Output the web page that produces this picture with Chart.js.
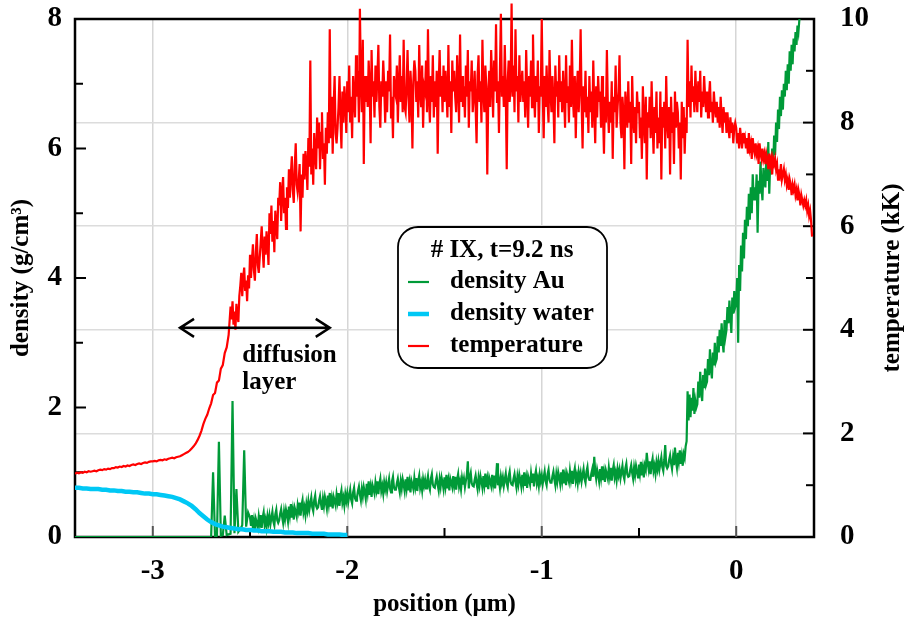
<!DOCTYPE html>
<html>
<head>
<meta charset="utf-8">
<script src="https://cdn.jsdelivr.net/npm/chart.js@4.4.1/dist/chart.umd.min.js"></script>
<style>
  body { margin: 0; background: #fff; }
  canvas { display: block; }
</style>
</head>
<body>
<canvas id="chart" width="912" height="626"></canvas>
<script>
const tempCoarseStart = -3.40, tempCoarseStep = 0.01;
const tempCoarse = [
  1.22,1.24,1.23,1.25,1.24,1.26,1.25,1.27,1.26,1.27,
  1.28,1.27,1.29,1.30,1.29,1.31,1.30,1.32,1.31,1.33,
  1.33,1.35,1.34,1.36,1.35,1.37,1.36,1.38,1.37,1.39,
  1.40,1.39,1.41,1.42,1.41,1.43,1.44,1.43,1.45,1.46,
  1.46,1.47,1.46,1.48,1.49,1.48,1.50,1.49,1.51,1.52,
  1.53,1.52,1.54,1.55,1.56,1.58,1.60,1.62,1.64,1.67,
  1.71,1.75,1.80,1.87,1.95,2.05,2.18,2.28,2.36,2.48,
  2.58,2.74,2.78,2.98,3.02,3.25,3.32,3.55,3.66,3.90
];
const tempFineStart = -2.60, tempFineStep = 0.005;
const tempFine = [
  4.45,4.20,4.55,4.10,4.35,4.00,4.50,4.30,4.15,4.65,
  4.85,5.10,4.65,5.00,5.20,4.75,4.95,4.55,5.05,4.80,
  5.45,5.00,5.35,5.65,5.15,4.95,5.50,5.85,5.25,5.10,
  5.40,5.70,6.00,5.55,5.20,5.80,5.45,5.90,5.65,5.25,
  6.25,5.85,6.40,5.70,6.10,5.50,6.30,6.00,5.75,6.55,
  6.40,6.85,6.10,6.65,6.95,6.25,6.55,5.95,6.75,6.35,
  7.10,6.55,7.00,7.35,6.70,6.45,7.15,7.60,6.80,6.65,
  6.85,7.20,5.90,7.00,6.55,7.40,6.90,7.45,7.20,6.70,
  7.70,7.15,9.20,7.00,7.50,6.80,7.80,7.40,7.10,8.10,
  7.50,8.00,7.10,7.80,8.20,7.30,7.60,6.80,7.90,7.40,
  8.20,7.60,9.80,7.70,8.50,7.40,8.30,8.90,7.80,7.60,
  7.90,8.30,8.90,8.10,7.50,8.60,8.00,8.70,8.40,7.80,
  8.80,8.20,9.10,8.00,8.50,7.70,8.90,8.50,8.10,9.30,
  8.50,9.00,8.00,10.2,8.80,8.20,9.60,7.20,8.90,8.40,
  8.90,8.30,9.20,8.70,7.60,9.40,8.50,8.80,8.10,9.10,
  8.40,8.90,9.50,8.30,7.90,8.80,8.50,9.20,8.70,8.00,
  8.80,8.20,9.00,8.60,9.70,8.10,8.50,7.70,8.90,8.60,
  8.50,9.10,8.00,8.70,9.30,8.40,8.90,8.20,9.60,8.30,
  8.20,8.70,9.40,8.50,8.00,9.00,8.60,7.50,8.80,9.20,
  9.00,8.40,8.80,8.10,9.50,8.60,8.30,9.10,7.90,8.70,
  8.60,9.20,8.20,9.80,8.50,8.00,8.90,8.40,9.30,8.10,
  8.80,8.30,9.00,7.40,8.70,9.40,8.50,8.90,8.20,9.10,
  8.40,9.00,8.60,8.10,9.50,8.30,8.80,7.80,9.20,8.60,
  9.00,8.50,8.20,9.30,8.70,8.00,9.70,8.40,8.90,8.30,
  8.70,8.10,9.10,8.50,9.40,7.90,8.80,8.60,9.20,8.20,
  8.50,9.00,8.30,7.60,8.90,9.30,8.40,8.80,8.00,9.60,
  8.60,8.20,9.10,8.70,7.00,8.50,9.00,8.30,9.40,8.80,
  8.10,9.20,8.60,9.90,8.40,8.80,7.80,9.00,10.1,8.50,
  8.90,8.30,9.50,8.60,7.10,8.80,9.20,8.40,8.70,10.3,
  8.50,9.10,8.20,9.80,8.60,8.90,8.00,9.30,8.40,8.70,
  9.00,8.40,8.80,8.10,9.40,8.60,7.90,8.90,8.50,9.20,
  8.30,9.70,8.60,8.10,8.90,8.40,9.20,7.80,8.70,8.50,
  10.0,8.60,7.70,8.90,8.30,9.10,8.40,8.00,9.40,8.60,
  8.20,8.90,8.40,7.60,9.10,8.50,8.80,8.10,9.30,8.40,
  8.80,8.20,9.00,8.50,7.90,9.30,8.40,8.70,8.00,9.10,
  8.30,9.60,8.50,8.10,8.90,7.70,8.60,9.00,8.20,8.70,
  9.80,8.40,7.50,8.70,8.20,9.00,8.10,8.50,7.80,8.90,
  8.20,8.60,7.90,9.20,8.30,7.60,8.70,8.10,8.90,8.40,
  8.60,7.90,8.90,8.20,7.40,8.50,8.00,9.40,8.30,7.80,
  8.40,8.00,8.80,7.30,8.50,8.20,9.10,7.90,8.30,8.60,
  9.30,8.00,7.70,8.50,8.20,7.10,8.60,8.30,7.90,8.80,
  8.00,8.40,7.20,8.90,8.10,7.80,8.30,7.60,8.60,8.20,
  8.40,7.70,8.10,7.30,8.70,8.00,7.60,8.50,6.90,8.20,
  7.90,8.50,7.70,8.80,8.00,7.40,8.30,7.80,8.60,7.50,
  8.10,7.60,8.60,6.90,8.30,7.90,8.40,7.50,8.90,8.00,
  7.70,8.30,7.00,8.50,7.80,8.20,7.20,8.60,7.90,8.40,
  8.20,7.50,8.00,6.90,8.40,7.70,8.30,7.40,8.10,7.80,
  9.60,8.30,8.80,8.10,9.10,8.40,8.70,8.20,9.00,8.50,
  8.20,8.80,8.40,9.00,8.10,8.60,8.30,8.90,8.50,8.20,
  8.60,8.10,8.50,8.80,8.20,8.40,8.00,8.60,8.30,8.10,
  8.40,8.00,8.30,7.90,8.50,8.10,7.80,8.30,8.00,8.20,
  7.80,8.20,7.90,7.70,8.10,7.80,8.00,7.60,7.90,8.00,
  7.90,7.60,7.80,7.50,7.90,7.70,7.50,7.80,7.60,7.70,
  7.50,7.70,7.40,7.80,7.50,7.60,7.30,7.70,7.50,7.40,
  7.60,7.40,7.50,7.20,7.60,7.40,7.30,7.50,7.30,7.40,
  7.20,7.40,7.30,7.10,7.40,7.20,7.30,7.00,7.30,7.20,
  7.30,7.10,7.20,6.90,7.10,7.00,7.20,6.90,7.00,7.10,
  6.90,7.00,6.80,6.90,6.70,6.90,6.80,6.60,6.80,6.70,
  6.80,6.60,6.70,6.50,6.70,6.60,6.40,6.60,6.50,6.40,
  6.50,6.40,6.50,6.30,6.40,6.20,6.30,6.10,5.80
];

const auCoarseStart = -3.40, auCoarseStep = 0.01;
const auCoarse = [
  0,0,0,0,0,0,0,0,0,0, 0,0,0,0,0,0,0,0,0,0, 0,0,0,0,0,0,0,0,0,0,
  0,0,0,0,0,0,0,0,0,0, 0,0,0,0,0,0,0,0,0,0, 0,0,0,0,0,0,0,0,0,0,
  0,0,0,0,0,0,0,0,0,0,
  0,1.00,0,0.02,1.47,0.02,0.03,0.33,0.03,0.04,
  0.05,2.10,0.06,0.74,0.08,0.12,0.18,1.34,0.16,0.38
];
const auFineStart = -2.50, auFineStep = 0.005;
const auFine = [
  0.30,0.17,0.34,0.13,0.25,0.10,0.28,0.22,0.15,0.32,
  0.21,0.34,0.14,0.30,0.38,0.19,0.27,0.15,0.32,0.22,
  0.33,0.20,0.30,0.39,0.24,0.18,0.35,0.42,0.26,0.22,
  0.26,0.36,0.43,0.31,0.22,0.39,0.28,0.42,0.34,0.24,
  0.47,0.34,0.51,0.30,0.42,0.27,0.45,0.39,0.32,0.49,
  0.40,0.53,0.33,0.49,0.57,0.38,0.46,0.34,0.51,0.41,
  0.55,0.42,0.52,0.61,0.46,0.40,0.57,0.64,0.48,0.44,
  0.46,0.56,0.63,0.51,0.42,0.59,0.48,0.62,0.54,0.44,
  0.64,0.51,0.68,0.47,0.59,0.44,0.62,0.56,0.49,0.66,
  0.55,0.68,0.48,0.64,0.72,0.53,0.61,0.49,0.66,0.56,
  0.67,0.54,0.64,0.73,0.58,0.52,0.69,0.76,0.60,0.56,
  0.61,0.71,0.78,0.66,0.57,0.74,0.63,0.77,0.69,0.59,
  0.82,0.69,0.86,0.65,0.77,0.62,0.80,0.74,0.67,0.84,
  0.73,0.86,0.66,0.82,0.90,0.71,0.79,0.67,0.84,0.74,
  0.84,0.71,0.81,0.90,0.75,0.69,0.86,0.93,0.77,0.73,
  0.73,0.83,0.90,0.78,0.69,0.86,0.75,0.89,0.81,0.71,
  0.89,0.76,0.93,0.72,0.84,0.69,0.87,0.81,0.74,0.91,
  0.78,0.91,0.71,0.87,0.95,0.76,0.84,0.72,0.89,0.79,
  0.88,0.75,0.85,0.94,0.79,0.73,0.90,0.97,0.81,0.77,
  0.76,0.86,0.93,0.81,0.72,0.89,0.78,0.92,0.84,0.74,
  0.92,0.79,0.96,0.75,0.87,0.72,0.90,0.84,0.77,0.94,
  0.80,0.93,0.73,0.89,0.97,0.78,0.86,0.74,0.91,0.81,
  0.90,0.77,0.87,0.96,1.17,0.75,0.92,0.99,0.83,0.79,
  0.78,0.88,0.95,0.83,0.74,0.91,0.80,0.94,0.86,0.76,
  0.94,0.81,0.98,0.77,0.89,0.74,0.92,0.86,0.79,0.96,
  0.82,0.95,0.75,0.91,1.14,0.80,0.88,0.76,0.93,0.83,
  0.92,0.79,0.89,0.98,0.83,0.77,0.94,1.01,0.85,0.81,
  0.80,0.90,0.97,0.85,0.76,0.93,0.82,0.96,0.88,0.78,
  0.96,0.83,1.00,0.79,0.91,0.76,0.94,0.88,0.81,0.98,
  0.85,0.98,0.78,0.94,1.02,0.83,0.91,0.79,0.96,0.86,
  0.95,0.82,0.92,1.01,0.86,0.80,0.97,1.04,0.88,0.84,
  0.84,0.94,1.01,0.89,0.80,0.97,0.86,1.00,0.92,0.82,
  1.00,0.87,1.04,0.83,0.95,0.80,0.98,0.92,0.85,1.02,
  0.89,1.02,0.82,0.98,1.06,0.87,0.95,0.83,1.00,0.90,
  0.99,0.86,0.96,1.05,0.90,0.84,1.01,1.08,0.92,0.88,
  0.88,0.98,1.05,0.93,1.24,1.01,0.90,1.04,0.96,0.86,
  1.05,0.92,1.09,0.88,1.00,0.85,1.03,0.97,0.90,1.07,
  0.94,1.07,0.87,1.03,1.11,0.92,1.00,0.88,1.05,0.95,
  1.04,0.91,1.01,1.10,0.95,0.89,1.06,1.13,0.97,0.93,
  0.94,1.04,1.11,0.99,0.90,1.07,0.96,1.10,1.02,0.92,
  1.12,0.99,1.16,0.95,1.07,0.92,1.10,1.04,1.30,1.14,
  1.04,1.17,0.97,1.13,1.21,1.02,1.10,0.98,1.15,1.05,
  1.17,1.04,1.14,1.23,1.08,1.02,1.19,1.42,1.10,1.06,
  1.09,1.19,1.26,1.14,1.05,1.22,1.11,1.38,1.17,1.07,
  1.30,1.17,1.34,1.13,1.25,1.10,1.28,1.22,1.40,1.48,
  2.25,1.80,2.20,1.85,2.15,1.95,2.30,1.90,2.10,2.00,
  2.05,2.40,2.15,2.55,2.25,2.10,2.50,2.30,2.60,2.35,
  2.40,2.75,2.50,2.90,2.60,2.45,2.85,2.65,3.00,2.70,
  2.75,3.10,2.85,3.20,2.95,3.30,3.00,2.85,3.35,3.10,
  3.20,3.55,3.30,3.65,3.40,3.15,3.70,3.45,3.80,3.55,
  3.60,4.00,3.00,4.20,3.80,4.50,4.10,4.70,4.30,4.90,
  4.60,5.10,4.80,5.30,4.90,5.40,5.00,5.60,5.20,5.40,
  5.20,5.60,4.70,5.50,5.30,5.80,5.40,5.20,5.70,5.50,
  5.40,5.90,5.50,6.10,5.30,5.80,5.60,6.00,5.70,6.20,
  5.90,6.40,6.10,6.60,6.30,6.80,6.50,6.90,6.60,7.00,
  6.80,7.20,6.90,7.30,7.00,7.50,7.20,7.60,7.30,7.70,
  7.50,7.80,7.60,7.90,7.80,8.00,8.05
];

const waterStart = -3.40, waterStep = 0.02;
const densityWater = [
  0.76,0.76,0.75,0.75,0.74,0.74,0.74,0.73,0.73,0.72,
  0.72,0.71,0.71,0.70,0.70,0.69,0.69,0.68,0.67,0.67,
  0.66,0.66,0.65,0.64,0.63,0.62,0.60,0.58,0.55,0.52,
  0.48,0.43,0.37,0.32,0.27,0.23,0.20,0.18,0.16,0.15,
  0.14,0.13,0.12,0.12,0.11,0.11,0.10,0.10,0.09,0.09,
  0.09,0.08,0.08,0.08,0.07,0.07,0.07,0.06,0.06,0.06,
  0.06,0.05,0.05,0.05,0.05,0.04,0.04,0.04,0.04,0.03,
  0.03
];

const xMajor = [-3, -2, -1, 0];
const xMinor = [-2.5, -1.5, -0.5];
const densityMajor = [0, 2, 4, 6, 8];
const densityMinor = [1, 3, 5, 7];
const tempMajor = [0, 2, 4, 6, 8, 10];
const tempMinor = [1, 3, 5, 7, 9];

const legendTitle = '# IX, t=9.2 ns';
const arrowFrom = -2.86, arrowTo = -2.09, arrowLevel = 3.23;
const noteX = -2.54, noteLines = ['diffusion', 'layer'], noteLevels = [2.81, 2.38];

function series(start, step, values) {
  return values.map((v, i) => ({ x: +(start + i * step).toFixed(3), y: v }));
}

const serif = "'Liberation Serif', 'Times New Roman', serif";
const tickFont = { family: serif, size: 29, weight: 'bold' };
const titleFont = { family: serif, size: 25, weight: 'bold' };

// frame and inward tick marks, under the data
const frame = {
  id: 'frame',
  beforeDatasetsDraw(chart) {
    const { ctx, chartArea: a, scales } = chart;
    ctx.save();
    ctx.strokeStyle = '#000';
    ctx.lineWidth = 2.5;
    ctx.strokeRect(a.left, a.top, a.right - a.left, a.bottom - a.top);
    ctx.lineWidth = 2;
    const tick = (x1, y1, x2, y2, col) => {
      ctx.strokeStyle = col;
      ctx.beginPath(); ctx.moveTo(x1, y1); ctx.lineTo(x2, y2); ctx.stroke();
    };
    xMajor.forEach(v => { const x = scales.x.getPixelForValue(v); tick(x, a.bottom, x, a.bottom - 11, '#555'); });
    xMinor.forEach(v => { const x = scales.x.getPixelForValue(v); tick(x, a.bottom, x, a.bottom - 9, '#000'); });
    densityMajor.forEach(v => { const y = scales.y.getPixelForValue(v); tick(a.left, y, a.left + 11, y, '#000'); });
    densityMinor.forEach(v => { const y = scales.y.getPixelForValue(v); tick(a.left, y, a.left + 8, y, '#000'); });
    tempMajor.forEach(v => { const y = scales.y1.getPixelForValue(v); tick(a.right, y, a.right - 11, y, '#000'); });
    tempMinor.forEach(v => { const y = scales.y1.getPixelForValue(v); tick(a.right, y, a.right - 8, y, '#000'); });
    ctx.restore();
  }
};

// legend box, arrow note and right axis title
const extras = {
  id: 'extras',
  afterDatasetsDraw(chart) {
    const { ctx, chartArea: a, scales } = chart;
    ctx.save();

    // legend
    ctx.beginPath();
    ctx.roundRect(398, 227, 209, 141, 20);
    ctx.fillStyle = '#fff';
    ctx.fill();
    ctx.lineWidth = 1.8;
    ctx.strokeStyle = '#000';
    ctx.stroke();
    ctx.fillStyle = '#000';
    ctx.font = 'bold 25px ' + serif;
    ctx.textBaseline = 'middle';
    ctx.textAlign = 'center';
    ctx.fillText(legendTitle, 502, 251);
    ctx.textAlign = 'left';
    chart.data.datasets.forEach((ds, i) => {
      const y = 282 + i * 32;
      ctx.strokeStyle = ds.borderColor;
      ctx.lineWidth = ds.borderWidth;
      ctx.beginPath(); ctx.moveTo(408, y); ctx.lineTo(429, y); ctx.stroke();
      ctx.fillStyle = '#000';
      ctx.fillText(ds.label, 450, y);
    });

    // double arrow over the diffusion layer
    const x1 = scales.x.getPixelForValue(arrowFrom);
    const x2 = scales.x.getPixelForValue(arrowTo);
    const ay = scales.y.getPixelForValue(arrowLevel);
    ctx.strokeStyle = '#000';
    ctx.lineWidth = 2.5;
    ctx.beginPath();
    ctx.moveTo(x1, ay); ctx.lineTo(x2, ay);
    ctx.moveTo(x1 + 14, ay - 9); ctx.lineTo(x1, ay); ctx.lineTo(x1 + 14, ay + 9);
    ctx.moveTo(x2 - 14, ay - 9); ctx.lineTo(x2, ay); ctx.lineTo(x2 - 14, ay + 9);
    ctx.stroke();
    ctx.font = 'bold 25px ' + serif;
    ctx.fillStyle = '#000';
    noteLines.forEach((t, i) => {
      ctx.fillText(t, scales.x.getPixelForValue(noteX), scales.y.getPixelForValue(noteLevels[i]));
    });

    // right axis title, reading bottom to top
    ctx.translate(893, (a.top + a.bottom) / 2);
    ctx.rotate(-Math.PI / 2);
    ctx.textAlign = 'center';
    ctx.font = 'bold 25px ' + serif;
    ctx.fillText('temperature (kK)', 0, 0);
    ctx.restore();
  }
};

const noEdgePadding = s => { s.paddingTop = 0; s.paddingBottom = 0; s.paddingLeft = 0; s.paddingRight = 0; };

new Chart(document.getElementById('chart'), {
  type: 'line',
  data: {
    datasets: [
      {
        label: 'density Au',
        data: series(auCoarseStart, auCoarseStep, auCoarse).concat(series(auFineStart, auFineStep, auFine)),
        yAxisID: 'y',
        borderColor: '#009a38',
        borderWidth: 2.2,
        order: 2
      },
      {
        label: 'density water',
        data: series(waterStart, waterStep, densityWater),
        yAxisID: 'y',
        borderColor: '#00c8f5',
        borderWidth: 4.5,
        order: 0
      },
      {
        label: 'temperature',
        data: series(tempCoarseStart, tempCoarseStep, tempCoarse).concat(series(tempFineStart, tempFineStep, tempFine)),
        yAxisID: 'y1',
        borderColor: '#ff0000',
        borderWidth: 2.2,
        clip: { left: 0, top: 20, right: 0, bottom: 0 },
        order: 1
      }
    ]
  },
  options: {
    responsive: false,
    animation: false,
    events: [],
    layout: { padding: { top: 19, left: 0, right: 0, bottom: 0 } },
    elements: { point: { radius: 0 }, line: { tension: 0 } },
    plugins: { legend: { display: false }, tooltip: { enabled: false } },
    scales: {
      x: {
        type: 'linear',
        min: -3.4,
        max: 0.4,
        afterBuildTicks: s => { s.ticks = xMajor.map(v => ({ value: v })); },
        afterFit: s => { noEdgePadding(s); s.height = 89; },
        grid: { color: '#d6d6d6', lineWidth: 1.5, drawTicks: false },
        border: { display: false },
        ticks: { font: tickFont, color: '#000', padding: 17, maxRotation: 0, callback: v => String(v) },
        title: { display: true, text: 'position (μm)', font: titleFont, color: '#000', padding: { top: 0, bottom: 6 } }
      },
      y: {
        position: 'left',
        min: 0,
        max: 8,
        afterBuildTicks: s => { s.ticks = densityMajor.map(v => ({ value: v })); },
        afterFit: s => { noEdgePadding(s); s.width = 75; },
        grid: { display: false, drawTicks: false },
        border: { display: false },
        ticks: { font: tickFont, color: '#000', padding: 13, callback: v => String(v) },
        title: { display: true, text: 'density (g/cm³)', font: titleFont, color: '#000', padding: { top: 7, bottom: 0 } }
      },
      y1: {
        position: 'right',
        min: 0,
        max: 10,
        afterBuildTicks: s => { s.ticks = tempMajor.map(v => ({ value: v })); },
        afterFit: s => { noEdgePadding(s); s.width = 98; },
        grid: { color: '#dcdcdc', lineWidth: 1.5, drawTicks: false },
        border: { display: false },
        ticks: { font: tickFont, color: '#000', padding: 26, callback: v => String(v) }
      }
    }
  },
  plugins: [frame, extras]
});
</script>
</body>
</html>
